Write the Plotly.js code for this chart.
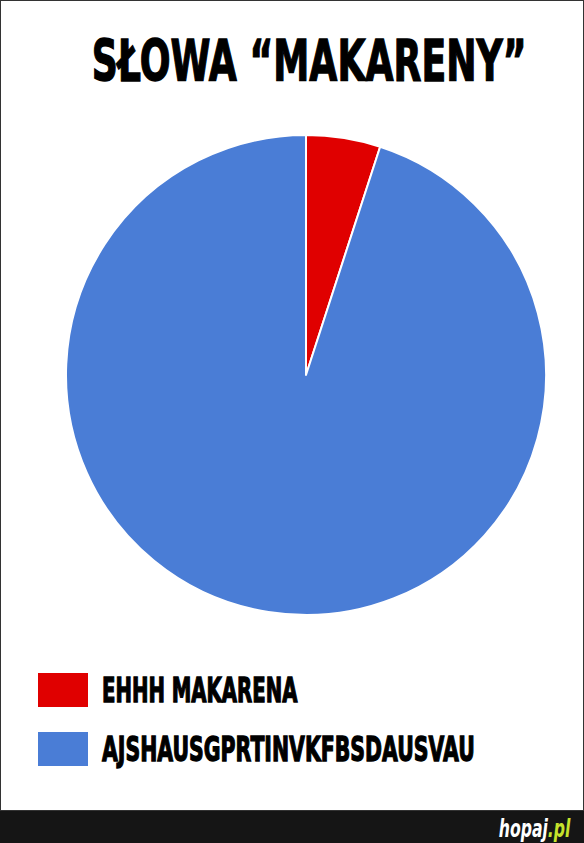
<!DOCTYPE html>
<html>
<head>
<meta charset="utf-8">
<script src="https://cdn.plot.ly/plotly-3.0.1.min.js"></script>
<style>
  html, body { margin: 0; padding: 0; background: #fff; }
  #chart { width: 584px; height: 843px; }
  .heavy { stroke: #000; stroke-width: 1.4px; }
</style>
</head>
<body>
<div id="chart"></div>
<script>
const title = "SŁOWA “MAKARENY”";
const labels = ["EHHH MAKARENA", "AJSHAUSGPRTINVKFBSDAUSVAU"];
const values = [5, 95];
const colors = ["#e00000", "#4a7dd6"];
const brand = ["hopaj", ".pl"];

const FONT = "'DejaVu Sans',sans-serif";
const H = 843;
const py = y => 1 - y / H;

// legend drawn as shapes + annotations, one row per label
const legendRows = [690, 749];
const shapes = [
  // outer frame
  { type: "rect", xref: "paper", yref: "paper", x0: 0, x1: 1, y0: py(811), y1: 1,
    line: { color: "#333", width: 2 }, fillcolor: "rgba(0,0,0,0)" },
  // footer bar
  { type: "rect", xref: "paper", yref: "paper", x0: 0, x1: 1, y0: 0, y1: py(811),
    line: { width: 0 }, fillcolor: "#151515" },
  ...labels.map((l, i) => ({
    type: "rect", xref: "paper", yref: "paper",
    x0: 38 / 584, x1: 88 / 584, y0: py(legendRows[i] + 17), y1: py(legendRows[i] - 17),
    line: { width: 0 }, fillcolor: colors[i]
  }))
];

const annotations = [
  { text: "<b>" + title + "</b>", xref: "paper", yref: "paper", x: 309 / 584, y: py(61),
    xanchor: "center", yanchor: "middle", align: "center", showarrow: false,
    font: { family: FONT, size: 57, color: "#000" } },
  ...labels.map((l, i) => ({
    text: "<b>" + l + "</b>", xref: "paper", yref: "paper", x: 100 / 584, y: py(legendRows[i]),
    xanchor: "left", yanchor: "middle", align: "left", showarrow: false,
    font: { family: FONT, size: 34, color: "#000" }
  })),
  { text: "<b><i>" + brand[0] + "<span style='color:#c6e22c'>" + brand[1] + "</span></i></b>",
    xref: "paper", yref: "paper", x: 573 / 584, y: py(828),
    xanchor: "right", yanchor: "middle", align: "right", showarrow: false,
    font: { family: FONT, size: 25, color: "#fff" } }
];

// condense the text to the widths of the original poster font: [target width, anchor]
const squeeze = [[435, 0.5], [196, 0], [373, 0], [72, 1]];

Plotly.newPlot("chart", [{
  type: "pie", labels: labels, values: values, sort: false,
  direction: "clockwise", rotation: 0,
  marker: { colors: colors, line: { color: "#fff", width: 2 } },
  textinfo: "none", hoverinfo: "label+percent",
  domain: { x: [66 / 584, 546 / 584], y: [py(615), py(135)] },
  showlegend: false
}], {
  width: 584, height: 843,
  margin: { l: 0, r: 0, t: 0, b: 0 },
  paper_bgcolor: "#fff", plot_bgcolor: "#fff",
  shapes: shapes, annotations: annotations
}, { displayModeBar: false, staticPlot: true }).then(() => {
  document.querySelectorAll("text.annotation-text").forEach((t, i) => {
    const b = t.getBBox(), [w, a] = squeeze[i];
    const s = w / b.width, ax = b.x + a * b.width;
    t.setAttribute("transform", `translate(${ax},0) scale(${s},1) translate(${-ax},0)`);
    if (i < 3) t.classList.add("heavy");
  });
  document.querySelectorAll(".annotation rect.bg").forEach(r => r.setAttribute("width", 0));
});
</script>
</body>
</html>
